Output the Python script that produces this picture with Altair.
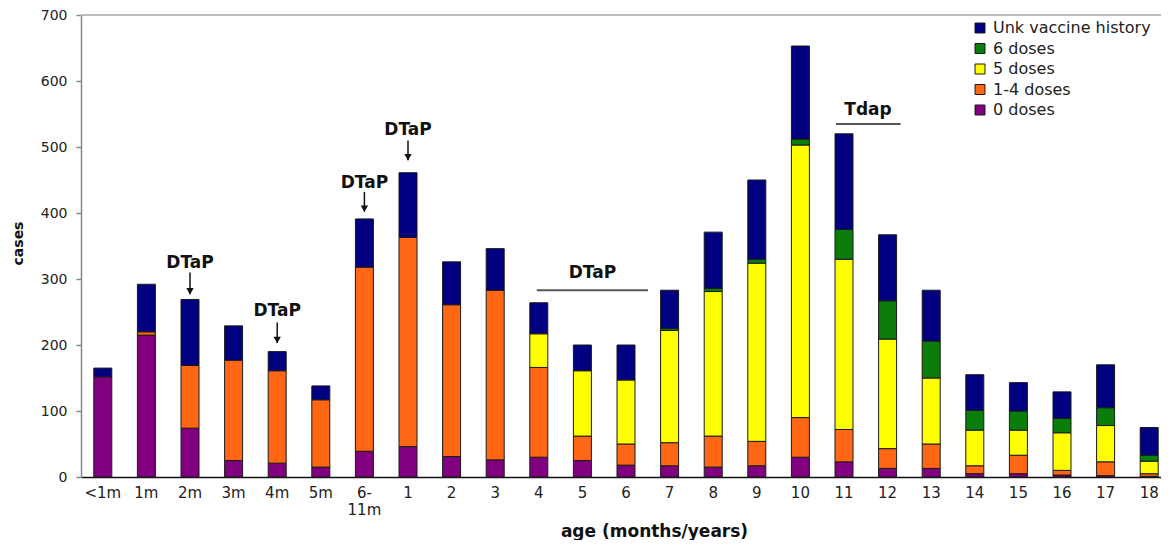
import altair as alt
import pandas as pd

ages = ["<1m", "1m", "2m", "3m", "4m", "5m", "6-11m", "1", "2", "3", "4", "5", "6",
        "7", "8", "9", "10", "11", "12", "13", "14", "15", "16", "17", "18"]
series = ["Unk vaccine history", "6 doses", "5 doses", "1-4 doses", "0 doses"]
colors = ["#000080", "#0b7d0b", "#ffff00", "#ff6715", "#800080"]

zero_doses = [152, 215, 74, 25, 21, 15, 39, 46, 31, 26, 30, 25, 18, 17, 15, 17, 30, 23, 13, 13, 5, 5, 3, 2, 1]
one_four = [0, 5, 95, 152, 140, 102, 279, 317, 230, 257, 136, 37, 32, 35, 47, 37, 60, 49, 30, 37, 12, 28, 7, 21, 4]
five_doses = [0, 0, 0, 0, 0, 0, 0, 0, 0, 0, 51, 99, 97, 170, 219, 270, 413, 258, 166, 100, 54, 38, 57, 55, 19]
six_doses = [0, 0, 0, 0, 0, 0, 0, 0, 0, 0, 0, 0, 0, 3, 5, 6, 9, 45, 58, 56, 30, 29, 22, 27, 9]
unknown = [13, 72, 100, 52, 29, 21, 73, 98, 65, 63, 47, 39, 53, 58, 85, 120, 141, 145, 100, 77, 54, 43, 40, 65, 42]

# arrow annotations (DTaP doses)
arrow_ages = ["2m", "4m", "6-11m", "1"]
arrow_text_v = [324, 251, 446, 526]
arrow_start_v = [310, 234, 432, 510]
arrow_tip_v = [277, 203, 402, 480]

rows = []
for s, vals, o in [("0 doses", zero_doses, 0), ("1-4 doses", one_four, 1), ("5 doses", five_doses, 2),
                   ("6 doses", six_doses, 3), ("Unk vaccine history", unknown, 4)]:
    for a, v in zip(ages, vals):
        if v > 0:
            rows.append({"age": a, "series": s, "cases": v, "ord": o})
df = pd.DataFrame(rows)

arrows = pd.DataFrame({"age": arrow_ages, "tv": arrow_text_v, "sv": arrow_start_v, "pv": arrow_tip_v, "label": ["DTaP"] * 4})

xscale = alt.Scale(domain=ages, range=[0, 1090], paddingInner=0, paddingOuter=0)
yscale = alt.Scale(domain=[0, 700], nice=False)

x_axis = alt.Axis(title="age (months/years)", titleFontSize=17, titleFontWeight="bold", titleColor="#111",
                  titleX=573, titleY=59, titleAlign="center", titleBaseline="alphabetic",
                  labelAngle=0, labelFontSize=15, labelColor="#222", labelPadding=8,
                  labelExpr="datum.value == '6-11m' ? ['6-', '11m'] : datum.value",
                  labelLineHeight=17, ticks=False, tickSize=0, domainColor="#111", domainWidth=1.5,
                  grid=False)
y_axis = alt.Axis(title="cases", titleFontSize=14, titleFontWeight="bold", titleColor="#111",
                  titleX=-63, titleY=228, titleAngle=-90, titleAlign="center", titleBaseline="middle",
                  values=[0, 100, 200, 300, 400, 500, 600, 700], labelFontSize=14, labelColor="#222",
                  labelPadding=9, tickSize=5, tickColor="#888", tickWidth=1.5,
                  domainColor="#888", domainWidth=1.5, grid=False)


def X(field="age"):
    return alt.X(f"{field}:N", scale=xscale, axis=x_axis, sort=ages)


def Y(field):
    return alt.Y(f"{field}:Q", scale=yscale, axis=y_axis)


bars = alt.Chart(df).mark_bar(size=18, stroke="#1a1a1a", strokeWidth=1).encode(
    x=X(),
    y=alt.Y("cases:Q", scale=yscale, axis=y_axis, stack="zero"),
    color=alt.Color("series:N", scale=alt.Scale(domain=series, range=colors),
                    legend=alt.Legend(orient="none", legendX=891, legendY=5, title=None,
                                      symbolType="square", symbolSize=100, symbolStrokeColor="#1a1a1a",
                                      symbolStrokeWidth=1, symbolOpacity=1, labelFontSize=16,
                                      labelColor="#222", rowPadding=4.5, labelOffset=5, padding=0)),
    order=alt.Order("ord:Q", sort="ascending"),
)

top_line = alt.Chart(pd.DataFrame({"cases": [700]})).mark_rule(color="#bdbdbd", strokeWidth=2).encode(
    y=Y("cases"))

arrow_text = alt.Chart(arrows).mark_text(fontWeight="bold", fontSize=17, baseline="middle", color="#111").encode(
    x=X(), y=Y("tv"), text="label:N")
arrow_shaft = alt.Chart(arrows).mark_rule(color="#111", strokeWidth=1.5).encode(
    x=X(), y=Y("sv"), y2="pv:Q")
arrow_head = alt.Chart(arrows).mark_point(shape="triangle-down", filled=True, size=55, color="#111",
                                          opacity=1, yOffset=-3).encode(x=X(), y=Y("pv"))

dtap_line = alt.Chart(pd.DataFrame({"age": ["4"], "age2": ["6"], "v": [283]})).mark_rule(
    color="#555", strokeWidth=2, xOffset=-2, x2Offset=22).encode(x=X(), x2="age2:N", y=Y("v"))
dtap_text = alt.Chart(pd.DataFrame({"age": ["5"], "v": [309], "label": ["DTaP"]})).mark_text(
    fontWeight="bold", fontSize=17, baseline="middle", color="#111", xOffset=10).encode(
    x=X(), y=Y("v"), text="label:N")

tdap_line = alt.Chart(pd.DataFrame({"age": ["11"], "age2": ["12"], "v": [535]})).mark_rule(
    color="#555", strokeWidth=2, xOffset=-8, x2Offset=13).encode(x=X(), x2="age2:N", y=Y("v"))
tdap_text = alt.Chart(pd.DataFrame({"age": ["11"], "v": [556], "label": ["Tdap"]})).mark_text(
    fontWeight="bold", fontSize=17, baseline="middle", color="#111", xOffset=24).encode(
    x=X(), y=Y("v"), text="label:N")

chart = alt.layer(top_line, bars, arrow_shaft, arrow_head, arrow_text, dtap_line, dtap_text,
                  tdap_line, tdap_text).properties(
    width=1080, height=462,
    padding={"left": 73, "top": 7, "right": 0, "bottom": 63},
    autosize=alt.AutoSizeParams(type="none"),
).configure(font="DejaVu Sans", background="white").configure_view(stroke=None)

chart.save("out.html", embed_options={"renderer": "svg", "actions": False})
